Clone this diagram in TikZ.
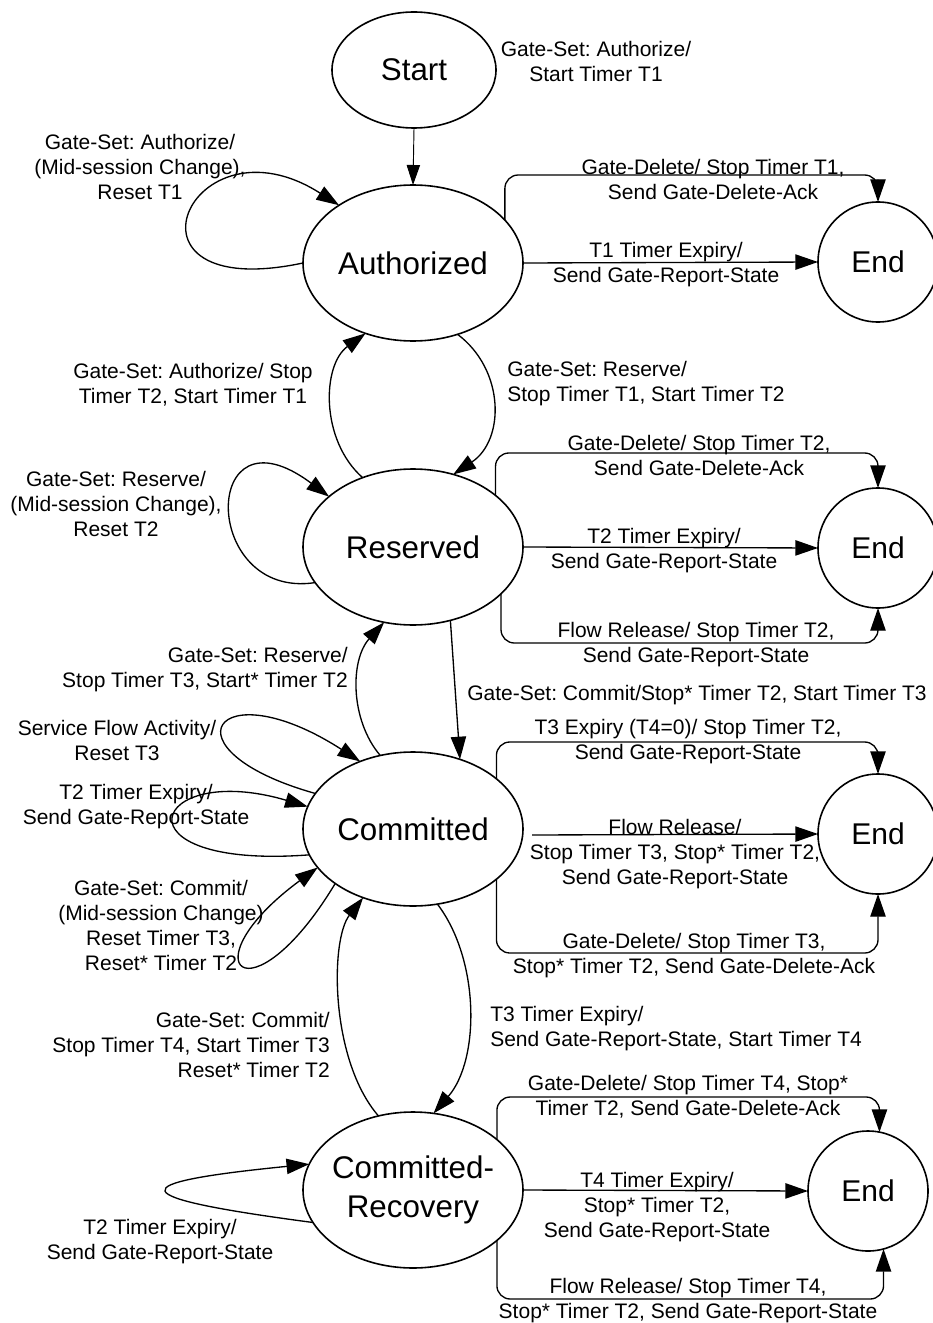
\documentclass[tikz,border=0pt]{standalone}
\usepackage{fontspec}
\setmainfont{Liberation Sans}
\frenchspacing
\usetikzlibrary{arrows.meta,shapes.geometric,calc}
\begin{document}
\begin{tikzpicture}[x=0.75pt,y=-0.75pt,
  state/.style={draw,ellipse,line width=1.2pt,inner sep=0pt,outer sep=0pt,minimum width=165pt,minimum height=117pt,font=\fontsize{23.5}{29}\selectfont,align=center},
  endst/.style={draw,circle,line width=1.2pt,inner sep=0pt,outer sep=0pt,minimum size=90pt,font=\fontsize{22.5}{27}\selectfont},
  conn/.style={line width=1pt,-{Triangle[length=17pt,width=11.5pt]}},
  ortho/.style={conn,rounded corners=10pt},
  lbl/.style={font=\fontsize{15.75}{18.75}\selectfont,align=center,inner sep=0pt},
  lbll/.style={lbl,align=left,anchor=west},
  lblr/.style={lbl,align=right,anchor=east}]
\useasboundingbox (0,0) rectangle (932,1323);
% states
\node[state,minimum width=123pt,minimum height=87pt] (start) at (414,70) {Start};
\node[state] (auth) at (413,263) {Authorized};
\node[state] (res) at (413,547) {Reserved};
\node[state,minimum height=115.5pt] (com) at (413,829) {Committed};
\node[state] (cr) at (413,1190) {};
\node[font=\fontsize{23.5}{29}\selectfont,align=center,inner sep=0pt] (crtext) at (cr.center) {Committed-\\Recovery};
\node[endst] (e1) at (878,262) {End};
\node[endst] (e2) at (878,548) {End};
\node[endst] (e3) at (878,834) {End};
\node[endst] (e4) at (868,1191) {End};
\coordinate (fr3) at (532,835);
% start -> authorized
\draw[line width=0.7pt,-{Triangle[length=15pt,width=10pt]}] (start.south) -- (auth.north);
\node[lbl] (l1) at (596,61) {Gate-Set: Authorize/\\Start Timer T1};
% authorized
\draw[conn] (auth.180) .. controls (105,305) and (190,110) .. (auth.142);
\node[lbl] (l2) at (140,167) {Gate-Set: Authorize/\\(Mid-session Change),\\Reset T1};
\draw[ortho] (auth.25) -- (auth.25 |- 0,175) -| (e1.north);
\node[lbl] (l3) at (713,179) {Gate-Delete/ Stop Timer T1,\\Send Gate-Delete-Ack};
\draw[conn] (auth.east) -- (e1.west);
\node[lbl] (l4) at (666,265) {T1 Timer Expiry/\\Send Gate-Report-State};
% authorized <-> reserved
\draw[conn] (res.126) .. controls (320,440) and (322,365) .. (auth.236);
\node[lbl] (l5) at (193,385) {Gate-Set: Authorize/ Stop\\Timer T2, Start Timer T1};
\draw[conn] (auth.302) .. controls (505,370) and (505,440) .. (res.61);
\node[lbll] (l6) at (507,384) {Gate-Set: Reserve/\\Stop Timer T1, Start Timer T2};
% reserved
\draw[conn] (res.200) .. controls (200,600) and (200,400) .. (res.149);
\node[lbl] (l7) at (116,504) {Gate-Set: Reserve/\\(Mid-session Change),\\Reset T2};
\draw[ortho] (res.32) -- (res.32 |- 0,453) -| (e2.north);
\node[lbl] (l8) at (699,455) {Gate-Delete/ Stop Timer T2,\\Send Gate-Delete-Ack};
\draw[conn] (res.east) -- (e2.west);
\node[lbl] (l9) at (664,551) {T2 Timer Expiry/\\Send Gate-Report-State};
\draw[ortho] (res.-28) -- (res.-28 |- 0,643) -| (e2.south);
\node[lbl] (l10) at (696,645) {Flow Release/ Stop Timer T2,\\Send Gate-Report-State};
% reserved <-> committed
\draw[conn] (res.297) -- (com.56);
\node[lbll] (l12) at (467,695) {Gate-Set: Commit/Stop* Timer T2, Start Timer T3};
\draw[conn] (com.114) .. controls (350,720) and (350,660) .. (res.249);
\node[lblr] (l11) at (348,670) {Gate-Set: Reserve/\\Stop Timer T3, Start* Timer T2};
% committed self loops
\draw[conn] (com.160) .. controls (160,750) and (215,668) .. (com.128);
\node[lbl] (l13) at (117,740) {Service Flow Activity/\\Reset T3};
\draw[conn] (com.194) .. controls (110,870) and (150,760) .. (com.168);
\node[lbl] (l14) at (136,807) {T2 Timer Expiry/\\Send Gate-Report-State};
\draw[conn] (com.215) .. controls (250,1025) and (185,965) .. (com.202);
\node[lbl] (l15) at (161,925) {Gate-Set: Commit/\\(Mid-session Change)\\Reset Timer T3,\\Reset* Timer T2};
% committed -> end
\draw[ortho] (com.31) -- (com.31 |- 0,742) -| (e3.north);
\node[lbl] (l16) at (688,742) {T3 Expiry (T4=0)/ Stop Timer T2,\\Send Gate-Report-State};
\draw[conn] (fr3) -- (e3.west);
\node[lbl] (l17) at (675,854) {Flow Release/\\Stop Timer T3, Stop* Timer T2,\\Send Gate-Report-State};
\draw[ortho] (com.-31) -- (com.-31 |- 0,953) -| (e3.south);
\node[lbl] (l18) at (694,956) {Gate-Delete/ Stop Timer T3,\\Stop* Timer T2, Send Gate-Delete-Ack};
% committed <-> recovery
\draw[conn] (com.288) .. controls (480,960) and (480,1060) .. (cr.75);
\node[lbll] (l19) at (490,1029) {T3 Timer Expiry/\\Send Gate-Report-State, Start Timer T4};
\draw[conn] (cr.115) .. controls (330,1060) and (330,940) .. (com.234);
\node[lblr] (l20) at (330,1045) {Gate-Set: Commit/\\Stop Timer T4, Start Timer T3\\Reset* Timer T2};
% recovery
\draw[conn] (cr.198) .. controls (120,1197) and (120,1183) .. (cr.166);
\node[lbl] (l21) at (160,1242) {T2 Timer Expiry/\\Send Gate-Report-State};
\draw[ortho] (cr.31) -- (cr.31 |- 0,1097) -| (e4.79);
\node[lbl] (l22) at (688,1097) {Gate-Delete/ Stop Timer T4, Stop*\\Timer T2, Send Gate-Delete-Ack};
\draw[conn] (cr.east) -- (e4.west);
\node[lbl] (l23) at (657,1207) {T4 Timer Expiry/\\Stop* Timer T2,\\Send Gate-Report-State};
\draw[ortho] (cr.-31) -- (cr.-31 |- 0,1299) -| (e4.-75);
\node[lbl] (l24) at (688,1301) {Flow Release/ Stop Timer T4,\\Stop* Timer T2, Send Gate-Report-State};
\end{tikzpicture}
\end{document}
